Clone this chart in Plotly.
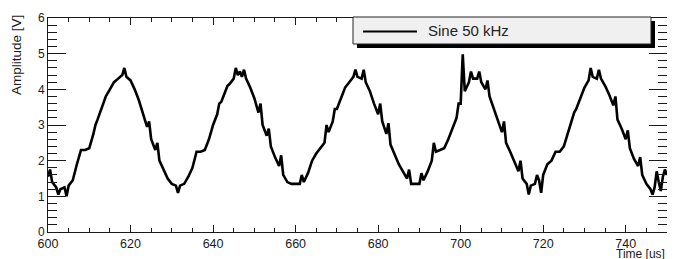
import plotly.graph_objects as go

# ---------------- data ----------------
series_name = "Sine 50 kHz"
x_title = "Time [us]"
y_title = "Amplitude [V]"

# baseline samples, one per microsecond, 600 .. 750 us
base_t0 = 600
base_values = [
    1.55, 1.40, 1.25, 1.20, 1.25, 1.30, 1.45, 1.90, 2.30, 2.30,   # 600-609
    2.35, 2.75, 3.15, 3.50, 3.80, 4.00, 4.20, 4.30, 4.40, 4.35,   # 610-619
    4.25, 4.00, 3.70, 3.35, 2.95, 2.60, 2.30, 2.00, 1.75, 1.50,   # 620-629
    1.35, 1.30, 1.30, 1.35, 1.55, 1.80, 2.25, 2.25, 2.30, 2.60,   # 630-639
    3.00, 3.30, 3.65, 3.95, 4.15, 4.30, 4.40, 4.35, 4.30, 4.05,   # 640-649
    3.75, 3.35, 3.00, 2.70, 2.40, 2.10, 1.85, 1.60, 1.40, 1.35,   # 650-659
    1.35, 1.35, 1.40, 1.65, 2.00, 2.20, 2.35, 2.50, 2.80, 3.10,   # 660-669
    3.45, 3.75, 4.05, 4.20, 4.35, 4.35, 4.30, 4.20, 3.95, 3.60,   # 670-679
    3.30, 3.10, 2.75, 2.45, 2.15, 1.90, 1.70, 1.50, 1.35, 1.35,   # 680-689
    1.35, 1.45, 1.70, 2.00, 2.25, 2.30, 2.35, 2.60, 2.90, 3.20,   # 690-699
    3.60, 3.95, 4.20, 4.30, 4.30, 4.20, 4.00, 3.80, 3.45, 3.15,   # 700-709
    2.80, 2.50, 2.25, 1.95, 1.70, 1.50, 1.35, 1.30, 1.35, 1.45,   # 710-719
    1.60, 1.90, 2.00, 2.25, 2.25, 2.40, 2.80, 3.15, 3.45, 3.75,   # 720-729
    4.05, 4.25, 4.35, 4.30, 4.30, 4.10, 3.85, 3.55, 3.15, 2.90,   # 730-739
    2.60, 2.35, 2.05, 1.85, 1.60, 1.35, 1.20, 1.25, 1.40, 1.55,   # 740-749
    1.60,                                                          # 750
]

# noise spikes seen on top of the staircase (time in us, amplitude in V)
spike_times = [
    600.5, 602.5, 604.5, 611.5, 618.5, 624.5, 626.5, 631.5, 641.5, 643.5,
    645.5, 646.5, 647.5, 651.5, 653.5, 656.5, 661.5, 667.5, 669.5, 674.5,
    676.5, 680.5, 682.5, 687.5, 690.5, 693.5, 699.5, 700.5, 702.5, 704.5,
    706.5, 710.5, 714.5, 716.5, 718.5, 719.5, 727.5, 731.5, 733.5, 737.5,
    740.5, 743.5, 746.5, 747.5, 748.5, 749.5,
]
spike_values = [
    1.75, 1.05, 1.00, 3.00, 4.60, 3.10, 2.50, 1.10, 3.60, 4.10,
    4.60, 4.50, 4.55, 3.60, 2.90, 2.15, 1.60, 3.00, 3.45, 4.55,
    4.55, 3.60, 3.05, 1.75, 1.65, 2.50, 3.60, 4.98, 4.50, 4.50,
    4.25, 3.10, 2.00, 1.05, 1.60, 1.10, 3.35, 4.60, 4.55, 3.80,
    2.85, 2.10, 1.05, 1.70, 1.15, 1.75,
]

# merge baseline and spikes into one time-ordered series
base_times = [base_t0 + i for i in range(len(base_values))]
pairs = sorted(list(zip(base_times, base_values)) + list(zip(spike_times, spike_values)))
t = [p[0] for p in pairs]
v = [p[1] for p in pairs]

# ---------------- figure ----------------
# the page body has an 8px margin, so the figure is drawn 8px right / down
OFF = 8
SCREEN_W, SCREEN_H = 675, 259
FL, FR, FT, FB = 48, 667, 18, 232          # frame edges on screen
W, H = SCREEN_W - OFF, SCREEN_H - OFF
L, T = FL - OFF, FT - OFF
R = W - (FR - OFF)
B = H - (FB - OFF)

def px(x):
    return (x - FL) / (FR - FL)

def py(y):
    return (FB - y) / (FB - FT)

FONT = "Liberation Sans, Arial, sans-serif"
AX = "#1a1a1a"

fig = go.Figure()
fig.add_trace(go.Scatter(
    x=t, y=v, mode="lines", name=series_name,
    line=dict(color="black", width=2.6, shape="linear"),
    showlegend=False,
))

fig.update_layout(
    width=W, height=H,
    margin=dict(l=L, r=R, t=T, b=B, pad=0, autoexpand=False),
    paper_bgcolor="white", plot_bgcolor="white",
    font=dict(family=FONT, color=AX),
    xaxis=dict(
        range=[600, 750], dtick=20, tick0=600, automargin=False,
        ticks="inside", ticklen=7, tickwidth=1, tickcolor=AX,
        minor=dict(dtick=5, ticks="inside", ticklen=4, tickcolor=AX, showgrid=False),
        showline=True, linecolor=AX, linewidth=1, mirror="ticks",
        showgrid=False, zeroline=False,
        tickfont=dict(size=12.5, color=AX, family=FONT),
    ),
    yaxis=dict(
        range=[0, 6], dtick=1, tick0=0, automargin=False,
        ticks="inside", ticklen=18, tickwidth=1, tickcolor=AX,
        minor=dict(dtick=0.2, ticks="inside", ticklen=9, tickcolor=AX, showgrid=False),
        showline=True, linecolor=AX, linewidth=1, mirror="ticks",
        showgrid=False, zeroline=False,
        tickfont=dict(size=12, color=AX, family=FONT),
    ),
)

# axis titles (ROOT style: placed at the axis ends)
fig.add_annotation(
    text=y_title, xref="paper", yref="paper", x=px(17), y=py(13),
    xanchor="center", yanchor="top", textangle=-90, showarrow=False,
    font=dict(size=13.5, color=AX, family=FONT),
)
fig.add_annotation(
    text=x_title, xref="paper", yref="paper", x=px(667), y=py(254),
    xanchor="right", yanchor="middle", showarrow=False,
    font=dict(size=12, color=AX, family=FONT),
)

# legend box with shadow (ROOT TLegend look)
fig.add_shape(type="rect", xref="paper", yref="paper",
              x0=px(357), x1=px(655), y0=py(48), y1=py(21),
              fillcolor="black", line=dict(width=0), layer="above")
fig.add_shape(type="rect", xref="paper", yref="paper",
              x0=px(353), x1=px(651), y0=py(44), y1=py(17),
              fillcolor="#f0f0f0", line=dict(color="#222", width=1), layer="above")
fig.add_shape(type="line", xref="paper", yref="paper",
              x0=px(363), x1=px(417), y0=py(31.5), y1=py(31.5),
              line=dict(color="black", width=2), layer="above")
fig.add_annotation(
    text=series_name, xref="paper", yref="paper", x=px(426), y=py(31),
    xanchor="left", yanchor="middle", showarrow=False,
    font=dict(size=15, color="#222", family=FONT),
)

fig.write_html("out.html")
